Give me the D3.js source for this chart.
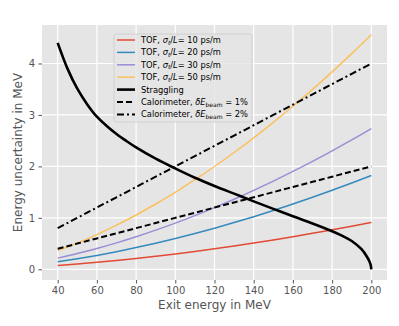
<!DOCTYPE html>
<html><head><meta charset="utf-8">
<script src="https://cdn.jsdelivr.net/npm/d3@7"></script>
<style>
body{margin:0;background:#fff;}
svg{display:block;font-family:"DejaVu Sans",sans-serif;}
</style></head>
<body>
<svg id="chart" width="399" height="326"></svg>
<script>
const energies = [40,50,60,70,80,90,100,110,120,130,140,150,160,170,180,190,200];
const tof10 = [0.072,0.102,0.135,0.171,0.211,0.254,0.299,0.348,0.400,0.454,0.511,0.571,0.634,0.699,0.768,0.838,0.912];
const tof20 = [0.145,0.204,0.270,0.343,0.422,0.507,0.599,0.696,0.799,0.908,1.022,1.142,1.268,1.399,1.535,1.677,1.824];
const tof30 = [0.217,0.306,0.405,0.514,0.633,0.761,0.898,1.044,1.199,1.362,1.534,1.713,1.902,2.098,2.303,2.515,2.736];
const tof50 = [0.362,0.509,0.675,0.857,1.055,1.269,1.497,1.741,1.998,2.270,2.556,2.856,3.169,3.496,3.838,4.192,4.560];
const cal1 = [0.40,0.50,0.60,0.70,0.80,0.90,1.00,1.10,1.20,1.30,1.40,1.50,1.60,1.70,1.80,1.90,2.00];
const cal2 = [0.80,1.00,1.20,1.40,1.60,1.80,2.00,2.20,2.40,2.60,2.80,3.00,3.20,3.40,3.60,3.80,4.00];
const stragE = [40,45,50,55,60,65,70,75,80,90,100,110,120,130,140,150,160,170,180,185,190,195,198,199,199.6,200];
const stragV = [4.40,3.90,3.51,3.21,2.965,2.785,2.63,2.495,2.37,2.15,1.96,1.78,1.62,1.47,1.32,1.175,1.03,0.89,0.74,0.655,0.55,0.39,0.23,0.155,0.095,0.0];
const xTicks = [40,60,80,100,120,140,160,180,200];
const yTicks = [0,1,2,3,4];

const svg = d3.select("#chart");
const L = 42, R = 387, T = 25, B = 280;
const x = d3.scaleLinear().domain([32,208]).range([L,R]);
const y = d3.scaleLinear().domain([-0.208,4.748]).range([B,T]);

svg.append("rect").attr("x",L).attr("y",T).attr("width",R-L).attr("height",B-T).attr("fill","#e5e5e5");
svg.append("defs").append("clipPath").attr("id","clip").append("rect")
  .attr("x",L).attr("y",T).attr("width",R-L).attr("height",B-T);

// grid
svg.append("g").selectAll("line").data(xTicks).join("line")
  .attr("x1",d=>x(d)).attr("x2",d=>x(d)).attr("y1",T).attr("y2",B)
  .attr("stroke","#fff").attr("stroke-width",1.2);
svg.append("g").selectAll("line").data(yTicks).join("line")
  .attr("y1",d=>y(d)).attr("y2",d=>y(d)).attr("x1",L).attr("x2",R)
  .attr("stroke","#fff").attr("stroke-width",1.2);

// axes
const xAxis = d3.axisBottom(x).tickValues(xTicks).tickFormat(d3.format("d")).tickSizeInner(3.5).tickSizeOuter(0).tickPadding(3.5);
const yAxis = d3.axisLeft(y).tickValues(yTicks).tickFormat(d3.format("d")).tickSizeInner(3.5).tickSizeOuter(0).tickPadding(3.5);
const gx = svg.append("g").attr("transform",`translate(0,${B})`).call(xAxis);
const gy = svg.append("g").attr("transform",`translate(${L},0)`).call(yAxis);
[gx,gy].forEach(g=>{
  g.select(".domain").remove();
  g.selectAll(".tick line").attr("stroke","#555555").attr("stroke-width",1);
  g.selectAll(".tick text").attr("fill","#555555").attr("font-size","10px").attr("font-family","DejaVu Sans");
});

svg.append("text").attr("x",(L+R)/2).attr("y",309).attr("text-anchor","middle")
  .attr("font-size","12px").attr("fill","#555555").text("Exit energy in MeV");
svg.append("text").attr("transform",`translate(22,${(T+B)/2}) rotate(-90)`).attr("text-anchor","middle")
  .attr("font-size","12px").attr("fill","#555555").text("Energy uncertainty in MeV");

const plot = svg.append("g").attr("clip-path","url(#clip)");
const line = d3.line().x(d=>x(d[0])).y(d=>y(d[1])).curve(d3.curveMonotoneX);
const smooth = d3.line().x(d=>x(d[0])).y(d=>y(d[1])).curve(d3.curveCatmullRom.alpha(0.5));

const series = [
  {vals:tof10, color:"#E24A33", w:1.5, dash:null},
  {vals:tof20, color:"#348ABD", w:1.5, dash:null},
  {vals:tof30, color:"#988ED5", w:1.5, dash:null},
  {vals:tof50, color:"#FBC15E", w:1.5, dash:null},
  {vals:cal1, color:"#000", w:2, dash:"6,3"},
  {vals:cal2, color:"#000", w:2, dash:"7,3,2,3"}
];
series.forEach(s=>{
  plot.append("path").datum(energies.map((e,i)=>[e,s.vals[i]]))
    .attr("d",line).attr("fill","none").attr("stroke",s.color)
    .attr("stroke-width",s.w).attr("stroke-dasharray",s.dash);
});
plot.append("path").datum(stragE.map((e,i)=>[e,stragV[i]]))
  .attr("d",smooth).attr("fill","none").attr("stroke","#000").attr("stroke-width",2.6);

// legend
const lg = svg.append("g");
lg.append("rect").attr("x",114).attr("y",34).attr("width",138).attr("height",88).attr("rx",2.5)
  .attr("fill","#e5e5e5").attr("fill-opacity",0.8).attr("stroke","#cccccc").attr("stroke-width",0.8);
const legendItems = [
  {type:"tof", v:"10", color:"#E24A33", w:1.5, dash:null},
  {type:"tof", v:"20", color:"#348ABD", w:1.5, dash:null},
  {type:"tof", v:"30", color:"#988ED5", w:1.5, dash:null},
  {type:"tof", v:"50", color:"#FBC15E", w:1.5, dash:null},
  {type:"str", color:"#000", w:2.6, dash:null},
  {type:"cal", v:"1%", color:"#000", w:2, dash:"6,3"},
  {type:"cal", v:"2%", color:"#000", w:2, dash:"7,3,2,3"}
];
legendItems.forEach((it,i)=>{
  const cy = 40 + i*12.4;
  lg.append("line").attr("x1",117).attr("x2",135).attr("y1",cy).attr("y2",cy)
    .attr("stroke",it.color).attr("stroke-width",it.w).attr("stroke-dasharray",it.dash);
  const t = lg.append("text").attr("x",141).attr("y",cy+3).attr("font-size","8.3px").attr("fill","#000");
  if(it.type==="tof"){
    t.append("tspan").text("TOF, ");
    t.append("tspan").attr("font-style","italic").text("σ");
    t.append("tspan").attr("font-size","6px").attr("font-style","italic").attr("dy",1.6).text("t");
    t.append("tspan").attr("dy",-1.6).text("/");
    t.append("tspan").attr("font-style","italic").text("L");
    t.append("tspan").text("= " + it.v + " ps/m");
  } else if(it.type==="str"){
    t.text("Straggling");
  } else {
    t.append("tspan").text("Calorimeter, ");
    t.append("tspan").attr("font-style","italic").text("δE");
    t.append("tspan").attr("font-size","6px").attr("dy",1.8).text("beam");
    t.append("tspan").attr("dy",-1.8).text(" = " + it.v);
  }
});
</script>
</body></html>
